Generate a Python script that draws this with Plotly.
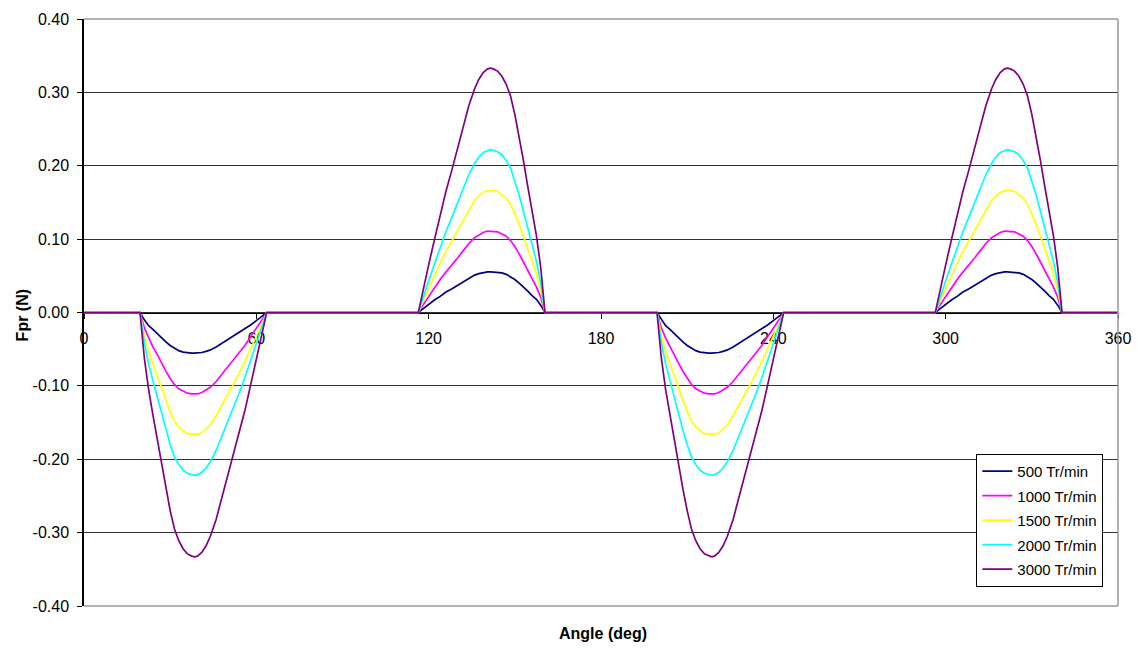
import plotly.graph_objects as go

# ---- data ----
angle_p1 = [19.5, 21, 22.5, 24, 25.5, 27, 28.5, 30, 31.5, 33, 34.5, 36, 37.5, 38.5, 39.5, 41, 42.5, 44, 46, 48, 50, 52, 54, 56, 58, 60, 62, 63.6]
angle_p2 = [116.4, 118, 120, 122, 124, 126, 128, 130, 132, 134, 136, 137.5, 139, 140.5, 141.5, 142.5, 144, 145.5, 147, 148.5, 150, 151.5, 153, 154.5, 156, 157.5, 159, 160.5]
angle_p3 = [199.5, 201, 202.5, 204, 205.5, 207, 208.5, 210, 211.5, 213, 214.5, 216, 217.5, 218.5, 219.5, 221, 222.5, 224, 226, 228, 230, 232, 234, 236, 238, 240, 242, 243.6]
angle_p4 = [296.4, 298, 300, 302, 304, 306, 308, 310, 312, 314, 316, 317.5, 319, 320.5, 321.5, 322.5, 324, 325.5, 327, 328.5, 330, 331.5, 333, 334.5, 336, 337.5, 339, 340.5]

neg_500 = [0, -0.010, -0.018, -0.023, -0.029, -0.035, -0.040, -0.045, -0.049, -0.052, -0.054, -0.055, -0.0553, -0.0555, -0.0553, -0.0545, -0.053, -0.051, -0.047, -0.042, -0.037, -0.032, -0.028, -0.022, -0.017, -0.011, -0.005, 0]
pos_500 = [0, 0.005, 0.011, 0.017, 0.022, 0.028, 0.032, 0.037, 0.042, 0.047, 0.051, 0.053, 0.0545, 0.0553, 0.0555, 0.0553, 0.055, 0.054, 0.052, 0.049, 0.045, 0.040, 0.035, 0.029, 0.023, 0.018, 0.010, 0]
neg_1000 = [0, -0.021, -0.035, -0.047, -0.057, -0.069, -0.080, -0.090, -0.098, -0.104, -0.107, -0.110, -0.111, -0.111, -0.111, -0.109, -0.106, -0.102, -0.094, -0.084, -0.074, -0.064, -0.055, -0.045, -0.033, -0.022, -0.010, 0]
pos_1000 = [0, 0.010, 0.022, 0.033, 0.045, 0.055, 0.064, 0.074, 0.084, 0.094, 0.102, 0.106, 0.109, 0.111, 0.111, 0.111, 0.110, 0.107, 0.104, 0.098, 0.090, 0.080, 0.069, 0.057, 0.047, 0.035, 0.021, 0]
neg_1500 = [0, -0.031, -0.053, -0.070, -0.086, -0.104, -0.120, -0.135, -0.148, -0.156, -0.161, -0.165, -0.166, -0.1665, -0.166, -0.164, -0.159, -0.153, -0.141, -0.127, -0.111, -0.097, -0.083, -0.067, -0.050, -0.033, -0.015, 0]
pos_1500 = [0, 0.015, 0.033, 0.050, 0.067, 0.083, 0.097, 0.111, 0.127, 0.141, 0.153, 0.159, 0.164, 0.166, 0.1665, 0.166, 0.165, 0.161, 0.156, 0.148, 0.135, 0.120, 0.104, 0.086, 0.070, 0.053, 0.031, 0]
neg_2000 = [0, -0.041, -0.070, -0.093, -0.115, -0.138, -0.160, -0.180, -0.197, -0.207, -0.215, -0.219, -0.221, -0.222, -0.221, -0.218, -0.212, -0.203, -0.188, -0.169, -0.148, -0.129, -0.110, -0.089, -0.066, -0.043, -0.020, 0]
pos_2000 = [0, 0.020, 0.043, 0.066, 0.089, 0.110, 0.129, 0.148, 0.169, 0.188, 0.203, 0.212, 0.218, 0.221, 0.222, 0.221, 0.219, 0.215, 0.207, 0.197, 0.180, 0.160, 0.138, 0.115, 0.093, 0.070, 0.041, 0]
neg_3000 = [0, -0.062, -0.105, -0.140, -0.172, -0.207, -0.240, -0.270, -0.295, -0.311, -0.322, -0.329, -0.332, -0.333, -0.332, -0.327, -0.318, -0.305, -0.282, -0.253, -0.222, -0.193, -0.165, -0.134, -0.099, -0.065, -0.030, 0]
pos_3000 = [0, 0.030, 0.065, 0.099, 0.134, 0.165, 0.193, 0.222, 0.253, 0.282, 0.305, 0.318, 0.327, 0.332, 0.333, 0.332, 0.329, 0.322, 0.311, 0.295, 0.270, 0.240, 0.207, 0.172, 0.140, 0.105, 0.062, 0]

series_names = ["500 Tr/min", "1000 Tr/min", "1500 Tr/min", "2000 Tr/min", "3000 Tr/min"]
series_neg = [neg_500, neg_1000, neg_1500, neg_2000, neg_3000]
series_pos = [pos_500, pos_1000, pos_1500, pos_2000, pos_3000]
series_colors = ["#000080", "#FF00FF", "#FFFF00", "#00FFFF", "#800080"]

x_ticks = [0, 60, 120, 180, 240, 300, 360]
y_ticks = [-0.4, -0.3, -0.2, -0.1, 0.0, 0.1, 0.2, 0.3, 0.4]
y_tick_labels = ["-0.40", "-0.30", "-0.20", "-0.10", "0.00", "0.10", "0.20", "0.30", "0.40"]

FONT = "Liberation Sans, Arial, sans-serif"
FS = 16

x_all = [0] + angle_p1 + angle_p2 + angle_p3 + angle_p4 + [360]

fig = go.Figure()
for i, name in enumerate(series_names):
    y_all = [0] + series_neg[i] + series_pos[i] + series_neg[i] + series_pos[i] + [0]
    fig.add_trace(go.Scatter(
        x=x_all, y=y_all, mode="lines", name=name,
        line=dict(color=series_colors[i], width=1.7),
        legendgroup=name,
    ))

# page body adds an 8px offset; figure sized so plot area lands at x 84-1118, y 19-606
fig.update_layout(
    width=1133, height=640,
    margin=dict(l=76, r=23, t=11, b=42, autoexpand=False),
    paper_bgcolor="white", plot_bgcolor="white",
    font=dict(family=FONT, size=FS, color="black"),
    showlegend=True,
    legend=dict(
        x=0.863, y=0.259, xanchor="left", yanchor="top",
        bgcolor="white", bordercolor="black", borderwidth=1,
        font=dict(family=FONT, size=15, color="black"),
        tracegroupgap=2, itemwidth=30,
    ),
    xaxis=dict(
        range=[0, 360], tickmode="array", tickvals=x_ticks,
        showgrid=False, zeroline=False, automargin=False,
        showline=True, linecolor="black", linewidth=1,
        ticks="outside", ticklen=5, tickcolor="black",
        anchor="free", position=0.5, layer="below traces",
        ticklabelstandoff=6,
        tickfont=dict(family=FONT, size=FS, color="black"),
    ),
    yaxis=dict(
        range=[-0.4, 0.4], tickmode="array", tickvals=y_ticks, ticktext=y_tick_labels,
        showgrid=True, gridcolor="#333333", gridwidth=1, zeroline=False, automargin=False,
        showline=True, linecolor="black", linewidth=1.5,
        ticks="outside", ticklen=5, tickcolor="black",
        ticklabelstandoff=5,
        tickfont=dict(family=FONT, size=FS, color="black"),
    ),
    shapes=[
        dict(type="line", xref="paper", yref="paper", x0=0, x1=1, y0=1, y1=1,
             line=dict(color="#999999", width=1.5), layer="above"),
        dict(type="line", xref="paper", yref="paper", x0=1, x1=1, y0=0, y1=1,
             line=dict(color="#999999", width=1.5), layer="above"),
        dict(type="line", xref="paper", yref="paper", x0=0, x1=1, y0=0, y1=0,
             line=dict(color="#999999", width=1.5), layer="above"),
    ],
    annotations=[
        dict(text="<b>Angle (deg)</b>", xref="paper", yref="paper", x=0.502, y=-0.046,
             xanchor="center", yanchor="middle", showarrow=False,
             font=dict(family=FONT, size=FS, color="black")),
        dict(text="<b>Fpr (N)</b>", xref="paper", yref="paper", x=-0.060, y=0.495,
             xanchor="center", yanchor="middle", showarrow=False, textangle=-90,
             font=dict(family=FONT, size=FS, color="black")),
    ],
)

fig.write_html("out.html")
